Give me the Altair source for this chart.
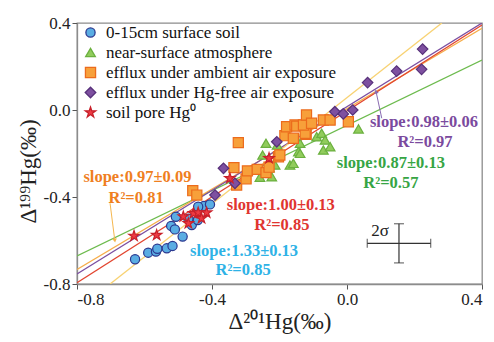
import altair as alt
import pandas as pd

# ---------------- data ----------------
groups = ["0-15cm surface soil", "near-surface atmosphere",
          "efflux under ambient air exposure", "efflux under Hg-free air exposure",
          "soil pore Hg⁰"]

blue_x = [-0.628, -0.589, -0.566, -0.562, -0.534, -0.517, -0.521, -0.510, -0.487, -0.507,
          -0.460, -0.442, -0.424, -0.406, -0.441, -0.470]
blue_y = [-0.686, -0.656, -0.651, -0.638, -0.636, -0.625, -0.533, -0.549, -0.582, -0.491,
          -0.529, -0.506, -0.441, -0.434, -0.445, -0.500]

green_x = [-0.258, -0.223, -0.250, -0.240, -0.213, -0.207, -0.169, -0.159, -0.144, -0.139,
           -0.139, -0.090, -0.075, -0.070, -0.065, -0.050, 0.034, -0.230]
green_y = [-0.309, -0.307, -0.207, -0.153, -0.253, -0.161, -0.253, -0.245, -0.192, -0.199,
           -0.153, -0.123, -0.107, -0.184, -0.138, -0.169, -0.087, -0.265]

orange_x = [-0.457, -0.445, -0.335, -0.322, -0.327, -0.299, -0.295, -0.266, -0.240, -0.231,
            -0.203, -0.199, -0.184, -0.179, -0.159, -0.154, -0.149, -0.121, -0.124, -0.129,
            -0.120, -0.105, -0.070, -0.050, 0.004]
orange_y = [-0.371, -0.391, -0.265, -0.150, -0.345, -0.317, -0.280, -0.273, -0.288, -0.263,
            -0.215, -0.207, -0.118, -0.077, -0.130, -0.069, -0.074, -0.112, -0.107, -0.069,
            -0.023, -0.061, -0.046, -0.046, -0.054]

purple_x = [-0.391, -0.366, -0.332, -0.208, -0.036, -0.011, 0.017, 0.061, 0.147, 0.221, 0.224]
purple_y = [-0.391, -0.268, -0.337, -0.146, -0.008, -0.018, 0.000, 0.126, 0.179, 0.187, 0.280]

red_x = [-0.631, -0.564, -0.485, -0.470, -0.455, -0.441, -0.431, -0.416, -0.347, -0.231]
red_y = [-0.579, -0.575, -0.490, -0.521, -0.475, -0.472, -0.498, -0.472, -0.314, -0.222]

# regression lines (end points)
fit_names = ["green", "orange", "purple", "red", "yellow"]
fit_x0 = [-0.8, -0.8, -0.8, -0.8, -0.702]
fit_y0 = [-0.671, -0.733, -0.754, -0.794, -0.8]
fit_x1 = [0.4, 0.4, 0.4, 0.4, 0.281]
fit_y1 = [0.230, 0.376, 0.400, 0.391, 0.4]
fit_colors = ["#6dbb4e", "#f6ad4a", "#7b4fa1", "#e2452f", "#f8d272"]

# annotations
ann_text = ["slope:0.97±0.09", "R²=0.81", "slope:1.00±0.13", "R²=0.85",
            "slope:1.33±0.13", "R²=0.85", "slope:0.98±0.06", "R²=0.97",
            "slope:0.87±0.13", "R²=0.57"]
ann_x = [-0.621, -0.625, -0.196, -0.193, -0.305, -0.308, 0.228, 0.231, 0.130, 0.130]
ann_y = [-0.307, -0.406, -0.437, -0.529, -0.648, -0.736, -0.054, -0.146, -0.244, -0.336]
ann_col = ["#ef7f1f", "#ef7f1f", "#e03530", "#e03530", "#2eb2e6", "#2eb2e6",
           "#7b4a9e", "#7b4a9e", "#36a544", "#36a544"]

# arrows (start -> tip)
arr_x0 = [-0.702, 0.103]
arr_y0 = [-0.429, -0.038]
arr_x1 = [-0.688, 0.086]
arr_y1 = [-0.600, 0.085]
arr_col = ["#f5b74f", "#8a6bb0"]
arr_angle = [171, 347]

# 2-sigma error cross
sig_x = [0.154]
sig_y = [-0.613]
sig_dx = [0.094]
sig_dy = [0.090]

# ---------------- build tables ----------------
pts = pd.concat([
    pd.DataFrame({"x": blue_x, "y": blue_y, "group": groups[0]}),
    pd.DataFrame({"x": green_x, "y": green_y, "group": groups[1]}),
    pd.DataFrame({"x": orange_x, "y": orange_y, "group": groups[2]}),
    pd.DataFrame({"x": purple_x, "y": purple_y, "group": groups[3]}),
    pd.DataFrame({"x": red_x, "y": red_y, "group": groups[4]}),
], ignore_index=True)
pts["order"] = range(len(pts))

lines = pd.DataFrame({
    "fit": fit_names * 2,
    "x": fit_x0 + fit_x1,
    "y": fit_y0 + fit_y1,
})

ann = pd.DataFrame({"x": ann_x, "y": ann_y, "text": ann_text, "c": ann_col})
arr = pd.DataFrame({"x": arr_x0, "y": arr_y0, "x2": arr_x1, "y2": arr_y1,
                    "c": arr_col, "a": arr_angle})

cx, cy, dx, dy = sig_x[0], sig_y[0], sig_dx[0], sig_dy[0]
sig_h = pd.DataFrame({"x": [cx - dx], "x2": [cx + dx], "y": [cy]})
sig_v = pd.DataFrame({"x": [cx], "y": [cy - dy], "y2": [cy + dy]})
cap_v = pd.DataFrame({"x": [cx - dx, cx + dx], "y": [cy, cy]})
cap_h = pd.DataFrame({"x": [cx, cx], "y": [cy - dy, cy + dy]})
sig_lab = pd.DataFrame({"x": [0.098], "y": [-0.555], "t": ["2σ"]})

STAR = ("M0,-1L0.2245,-0.309L0.951,-0.309L0.363,0.118L0.588,0.809L0,0.382"
        "L-0.588,0.809L-0.363,0.118L-0.951,-0.309L-0.2245,-0.309Z")

FONT = "Liberation Serif, Times New Roman, serif"
label_expr = ("datum.value < 0 ? '-' + format(abs(datum.value), '.1f') : "
              "format(datum.value, '.1f')")

X = alt.X("x:Q", scale=alt.Scale(domain=[-0.8, 0.4], nice=False, zero=False),
          axis=alt.Axis(values=[-0.8, -0.4, 0.0, 0.4], labelExpr=label_expr,
                        title="Δ²⁰¹Hg(‰)", grid=False, titleY=44,
                        titleBaseline="alphabetic"))
Y = alt.Y("y:Q", scale=alt.Scale(domain=[-0.8, 0.4], nice=False, zero=False),
          axis=alt.Axis(values=[-0.8, -0.4, 0.0, 0.4], labelExpr=label_expr,
                        title="Δ¹⁹⁹Hg(‰)", grid=False, titleX=-42, titleY=148,
                        titleBaseline="alphabetic", titleAngle=270))

leg = alt.Legend(title=None, orient="none", legendX=5, legendY=1,
                 labelFont=FONT, labelFontSize=17, labelOffset=7, labelLimit=400,
                 rowPadding=2, symbolStrokeWidth=1.3, padding=0, symbolOpacity=1,
                 labelColor="#111")

line_layer = alt.Chart(lines).mark_line(clip=True, strokeWidth=1.3).encode(
    x=X, y=Y,
    color=alt.Color("fit:N", scale=alt.Scale(domain=fit_names, range=fit_colors), legend=None),
    detail="fit:N",
)

arrow_line = alt.Chart(arr).mark_rule(strokeWidth=1).encode(
    x="x:Q", y="y:Q", x2="x2:Q", y2="y2:Q", color=alt.Color("c:N", scale=None))
arrow_head = alt.Chart(arr).mark_point(shape="triangle-up", filled=True, size=22, opacity=1).encode(
    x="x2:Q", y="y2:Q", color=alt.Color("c:N", scale=None), angle=alt.Angle("a:Q", scale=None))

point_layer = alt.Chart(pts).mark_point(filled=True, opacity=1, strokeWidth=1.2).encode(
    x=X, y=Y,
    fill=alt.Fill("group:N", scale=alt.Scale(domain=groups,
                  range=["#5aade3", "#91cc5c", "#f7a03a", "#7e50a0", "#ee3b43"]), legend=leg),
    stroke=alt.Stroke("group:N", scale=alt.Scale(domain=groups,
                      range=["#2b3990", "#6bb03f", "#ec6b1c", "#57307a", "#c8202a"]), legend=leg),
    shape=alt.Shape("group:N", scale=alt.Scale(domain=groups,
                    range=["circle", "triangle-up", "square", "diamond", STAR]), legend=leg),
    size=alt.Size("group:N", scale=alt.Scale(domain=groups, range=[85, 120, 110, 130, 230]),
                  legend=leg),
    order="order:Q",
)

text_layer = alt.Chart(ann).mark_text(font=FONT, fontWeight="bold", fontSize=16.5,
                                      baseline="middle").encode(
    x="x:Q", y="y:Q", text="text:N", color=alt.Color("c:N", scale=None))

sig_rule_h = alt.Chart(sig_h).mark_rule(color="#333", strokeWidth=1.2).encode(
    x="x:Q", x2="x2:Q", y="y:Q")
sig_rule_v = alt.Chart(sig_v).mark_rule(color="#333", strokeWidth=1.2).encode(
    x="x:Q", y="y:Q", y2="y2:Q")
sig_cap_v = alt.Chart(cap_v).mark_tick(orient="vertical", color="#333", size=9,
                                       thickness=1.2).encode(x="x:Q", y="y:Q")
sig_cap_h = alt.Chart(cap_h).mark_tick(orient="horizontal", color="#333", size=10,
                                       thickness=1.2).encode(x="x:Q", y="y:Q")
sig_text = alt.Chart(sig_lab).mark_text(font=FONT, fontSize=17, color="#222",
                                        baseline="middle").encode(
    x="x:Q", y="y:Q", text="t:N")

chart = alt.layer(
    line_layer, arrow_line, arrow_head, point_layer, text_layer,
    sig_rule_h, sig_rule_v, sig_cap_v, sig_cap_h, sig_text,
).properties(
    width=405, height=261,
    autosize=alt.AutoSizeParams(type="none"),
    padding={"left": 69, "top": 15, "right": 4, "bottom": 50},
).configure_view(
    stroke="#8c8c8c", strokeWidth=1.3,
).configure_axis(
    domainColor="#8c8c8c", domainWidth=1.3, tickColor="#555", tickSize=5,
    labelFont=FONT, labelFontSize=17, labelColor="#222", labelPadding=2,
    titleFont=FONT, titleFontSize=23, titleFontWeight="normal", titleColor="#222",
).configure_legend(
    labelFont=FONT,
).configure_text(
    font=FONT,
)

chart.save("out.html", embed_options={"renderer": "svg", "actions": False})
